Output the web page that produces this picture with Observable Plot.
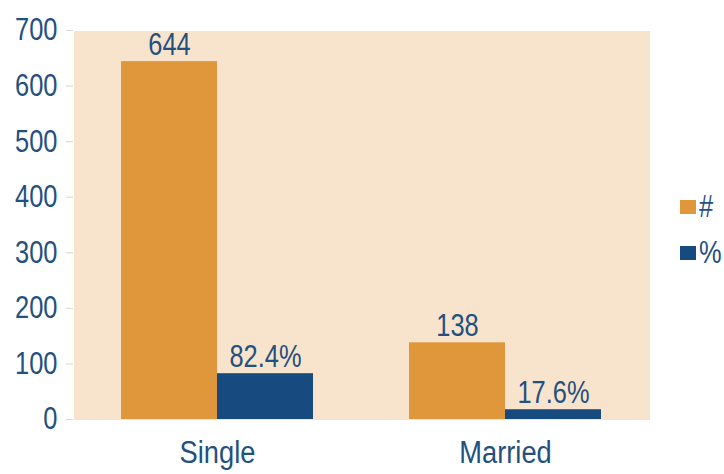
<!DOCTYPE html>
<html>
<head>
<meta charset="utf-8">
<script src="https://cdn.jsdelivr.net/npm/d3@7"></script>
<script src="https://cdn.jsdelivr.net/npm/@observablehq/plot@0.6"></script>
<style>
  body { margin: 0; background: #fff; }
  #wrap { position: relative; width: 724px; height: 474px; font-family: "Liberation Sans", Arial, sans-serif; color: #24507f; }
  #wrap svg { font-family: "Liberation Sans", Arial, sans-serif; }
  [aria-label="y-axis"] line, [aria-label^="y-axis tick"] path { stroke: #d6d6d6 !important; }
  [aria-label="frame"], [aria-label="frame"] rect { shape-rendering: crispEdges; }
  #legend { position: absolute; left: 680px; top: 184px; font-size: 31px; line-height: 46px; }
  #legend .row { display: flex; align-items: center; }
  #legend .sw { width: 16px; height: 14px; margin-right: 3px; flex: none; }
  #legend .t { display: inline-block; transform: scaleX(0.82); transform-origin: left center; }
</style>
</head>
<body>
<div id="wrap"></div>
<script>
const categories = ["Single", "Married"];
const series = ["#", "%"];
const counts = [644, 138];
const percents = [82.4, 17.6];
const yTicks = [0, 100, 200, 300, 400, 500, 600, 700];
const colors = ["#e0963b", "#174a7e"];

const rows = [];
categories.forEach((c, i) => {
  rows.push({cat: c, series: "#", value: counts[i], label: String(counts[i])});
  rows.push({cat: c, series: "%", value: percents[i], label: percents[i].toFixed(1) + "%"});
});

const chart = Plot.plot({
  width: 660,
  height: 474,
  marginLeft: 73,
  marginRight: 11,
  marginTop: 30,
  marginBottom: 55,
  style: {fontSize: "31px", color: "#24507f", background: "transparent", overflow: "visible"},
  facet: {data: rows, x: "cat"},
  fx: {domain: categories, padding: 0, label: null, tickSize: 0, tickPadding: 21},
  x: {domain: series, paddingInner: 0, paddingOuter: 0.49, axis: null},
  y: {domain: [0, 700], ticks: yTicks, tickSize: 7, tickPadding: 9, label: null},
  color: {domain: series, range: colors},
  marks: [
    Plot.frame({fill: "#f8e4cc", stroke: "none"}),
    Plot.barY(rows, {x: "series", y: "value", fill: "series"}),
    Plot.text(rows, {x: "series", y: "value", text: "label", dy: -7, lineAnchor: "bottom", fill: "#24507f", fontSize: 31})
  ]
});
const wrap = document.getElementById("wrap");
wrap.appendChild(chart);

// narrow the glyphs (reference uses a condensed face)
chart.querySelectorAll("text").forEach(el => {
  const s = categories.includes(el.textContent.trim()) ? 0.88 : 0.82;
  const len = el.getComputedTextLength();
  if (len > 0) {
    el.setAttribute("textLength", len * s);
    el.setAttribute("lengthAdjust", "spacingAndGlyphs");
  }
});

const legend = document.createElement("div");
legend.id = "legend";
series.forEach((s, i) => {
  const row = document.createElement("div");
  row.className = "row";
  const sw = document.createElement("span");
  sw.className = "sw";
  sw.style.background = colors[i];
  const t = document.createElement("span");
  t.className = "t";
  t.textContent = s;
  row.appendChild(sw);
  row.appendChild(t);
  legend.appendChild(row);
});
wrap.appendChild(legend);
</script>
</body>
</html>
